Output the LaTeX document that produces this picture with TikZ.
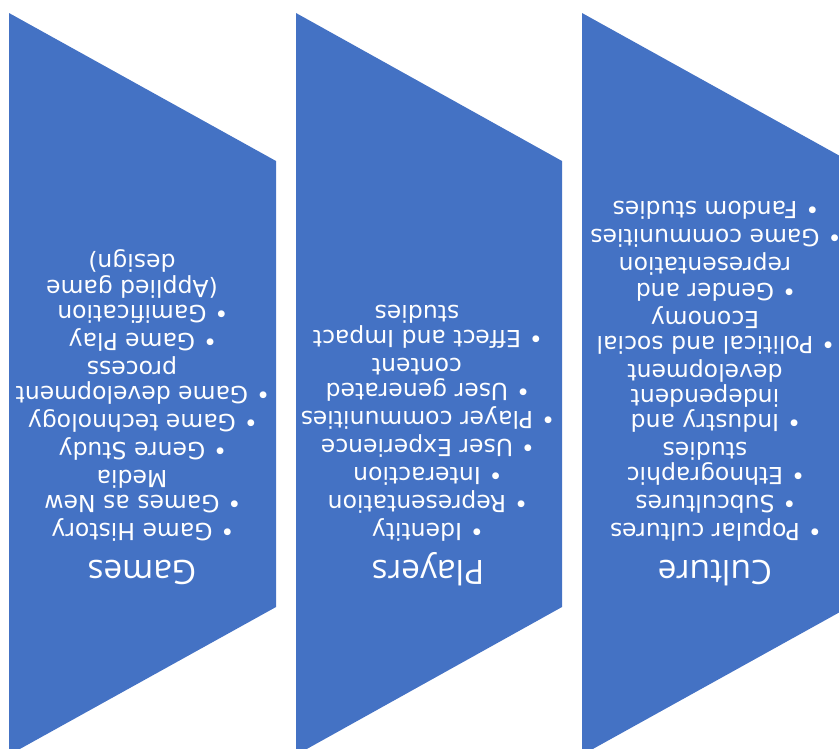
\documentclass[tikz,border=0pt]{standalone}
\usepackage{fontspec}
\newfontfamily\itemfont{DejaVu Sans}
\newfontfamily\headfont{Open Sans}
\definecolor{accentblue}{HTML}{4472C4}
% hanging bullet for the list lines
\newcommand{\bul}{\llap{\textbullet\hspace{8pt}}}

\begin{document}
\begin{tikzpicture}[x=1pt,y=-1pt,
  chevron/.style={fill=accentblue},
  heading/.style={rotate=180,anchor=base,text=white,inner sep=0pt,
    font=\headfont\fontsize{33.5}{40}\selectfont},
  itemlist/.style={rotate=180,anchor=north,text=white,inner sep=0pt,align=center,
    font=\itemfont\fontsize{23.5}{25.1}\selectfont}]
\useasboundingbox (0,0) rectangle (839,748);
\clip (0,0) rectangle (839,748);

\fill[chevron] (9,13) -- (276,161) -- (276,607) -- (9,755) -- cycle;
\fill[chevron] (296,13) -- (562,161) -- (562,607) -- (296,755) -- cycle;
\fill[chevron] (582,13) -- (849,161) -- (849,607) -- (582,755) -- cycle;

\node[heading] (games) at (142,560) {Games};
\node[heading] (players) at (428,560) {Players};
\node[heading] (culture) at (715,560) {Culture};

\node[itemlist] (gameslist) at (132,542) {\bul Game History\\[3pt]
  \bul Games as New\\ Media\\[3pt]
  \bul Genre Study\\[3pt]
  \bul Game technology\\[3pt]
  \bul Game development\\ process\\[3pt]
  \bul Game Play\\[3pt]
  \bul Gamification\\ (Applied game\\ design)};
\node[itemlist] (playerslist) at (417,542) {\bul Identity\\[3pt]
  \bul Representation\\[3pt]
  \bul Interaction\\[3pt]
  \bul User Experience\\[3pt]
  \bul Player communities\\[3pt]
  \bul User generated\\ content\\[3pt]
  \bul Effect and Impact\\ studies};
\node[itemlist] (culturelist) at (705,542) {\bul Popular cultures\\[3pt]
  \bul Subcultures\\[3pt]
  \bul Ethnographic\\ studies\\[3pt]
  \bul Industry and\\ independent\\ development\\[3pt]
  \bul Political and social\\ Economy\\[3pt]
  \bul Gender and\\ representation\\[3pt]
  \bul Game communities\\[3pt]
  \bul Fandom studies};
\end{tikzpicture}
\end{document}
